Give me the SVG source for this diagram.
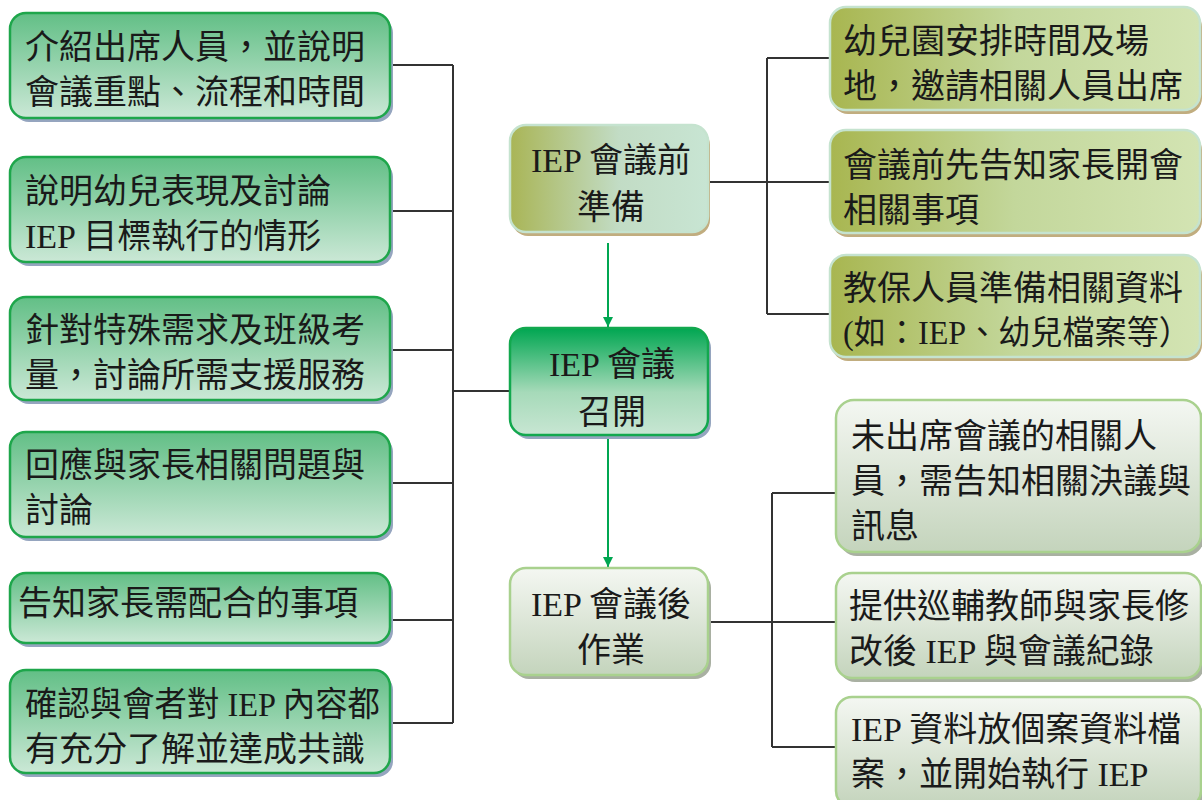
<svg xmlns="http://www.w3.org/2000/svg" width="1202" height="800" viewBox="0 0 1202 800">
<defs>
<linearGradient id="gLeft" x1="0" y1="0" x2="0" y2="1"><stop offset="0" stop-color="#62bf86"/><stop offset="1" stop-color="#cbe8d6"/></linearGradient>
<linearGradient id="gPrep" x1="0" y1="0" x2="1" y2="0"><stop offset="0" stop-color="#a9b556"/><stop offset="0.55" stop-color="#c2dcc5"/><stop offset="1" stop-color="#c8e5d3"/></linearGradient>
<linearGradient id="gPrepR" x1="0" y1="0" x2="1" y2="0"><stop offset="0" stop-color="#a8b650"/><stop offset="0.5" stop-color="#c3d79b"/><stop offset="1" stop-color="#d3e4b3"/></linearGradient>
<linearGradient id="gMeet" x1="0" y1="0" x2="0" y2="1"><stop offset="0" stop-color="#00a651"/><stop offset="0.6" stop-color="#a6dab9"/><stop offset="1" stop-color="#c8e6d3"/></linearGradient>
<linearGradient id="gPost" x1="0" y1="0" x2="0" y2="1"><stop offset="0" stop-color="#f4f7f2"/><stop offset="1" stop-color="#c4d4bc"/></linearGradient>
<marker id="arr" viewBox="0 0 10 10" refX="10" refY="5" markerWidth="5" markerHeight="5" orient="auto" markerUnits="strokeWidth"><path d="M0,0 L10,5 L0,10 z" fill="#00a651"/></marker>
</defs>
<style>
text{font-family:"Liberation Serif","Noto Sans CJK TC",serif;font-size:34px;fill:#1a1a1a}
.c{text-anchor:middle}
.shL{fill:#95a5bf}
.shP{fill:#c1ad7f}
.shQ{fill:#a9b0a2}
.bL{fill:url(#gLeft);stroke:#1ea64b;stroke-width:2.5}
.bP{fill:url(#gPrep);stroke:#c5e3cf;stroke-width:2.5}
.bPR{fill:url(#gPrepR);stroke:#c5e3cf;stroke-width:2.5}
.bM{fill:url(#gMeet);stroke:#12a84e;stroke-width:2.5}
.bQ{fill:url(#gPost);stroke:#a9d18e;stroke-width:2.5}
.ln{stroke:#333;stroke-width:2;fill:none}
.ar{stroke:#00a651;stroke-width:2;fill:none}
</style>
<rect width="1202" height="800" fill="#ffffff"/>
<g id="connectors">
<path class="ln" d="M390,65 H453 M390,211 H453 M390,350 H453 M390,483 H453 M390,620 H453 M390,723 H453 M453,65 V723 M453,391 H510"/>
<path class="ln" d="M708,182 H767 M767,58 V314 M767,58 H830 M767,182 H830 M767,314 H830"/>
<path class="ln" d="M708,622 H772 M772,493 V747 M772,493 H836 M772,622 H836 M772,747 H836"/>
<line class="ar" x1="608" y1="243" x2="608" y2="327" marker-end="url(#arr)"/>
<line class="ar" x1="608" y1="437" x2="608" y2="567" marker-end="url(#arr)"/>
</g>
<g id="n-left1"><rect class="shL" x="13" y="17" width="380" height="105" rx="16"/><rect class="bL" x="10" y="13" width="380" height="105" rx="16"/><text x="25" y="59">介紹出席人員，並說明</text><text x="25" y="104">會議重點、流程和時間</text></g>
<g id="n-left2"><rect class="shL" x="13" y="161" width="380" height="105" rx="16"/><rect class="bL" x="10" y="157" width="380" height="105" rx="16"/><text x="25" y="203">說明幼兒表現及討論</text><text x="25" y="248">IEP 目標執行的情形</text></g>
<g id="n-left3"><rect class="shL" x="13" y="301" width="380" height="103" rx="16"/><rect class="bL" x="10" y="297" width="380" height="103" rx="16"/><text x="25" y="342">針對特殊需求及班級考</text><text x="25" y="387">量，討論所需支援服務</text></g>
<g id="n-left4"><rect class="shL" x="13" y="436" width="380" height="105" rx="16"/><rect class="bL" x="10" y="432" width="380" height="105" rx="16"/><text x="25" y="477">回應與家長相關問題與</text><text x="25" y="522">討論</text></g>
<g id="n-left5"><rect class="shL" x="13" y="577" width="380" height="70" rx="16"/><rect class="bL" x="10" y="573" width="380" height="70" rx="16"/><text x="18" y="615">告知家長需配合的事項</text></g>
<g id="n-left6"><rect class="shL" x="13" y="674" width="380" height="103" rx="16"/><rect class="bL" x="10" y="670" width="380" height="103" rx="16"/><text x="25" y="716" textLength="355" lengthAdjust="spacingAndGlyphs">確認與會者對 IEP 內容都</text><text x="25" y="761">有充分了解並達成共識</text></g>
<g id="n-prep"><rect class="shP" x="512" y="129" width="198" height="107" rx="16"/><rect class="bP" x="510" y="125" width="198" height="107" rx="16"/><text class="c" x="611" y="172">IEP 會議前</text><text class="c" x="611" y="219">準備</text></g>
<g id="n-meet"><rect class="shL" x="513" y="332" width="198" height="107" rx="16"/><rect class="bM" x="510" y="328" width="198" height="107" rx="16"/><text class="c" x="612" y="376">IEP 會議</text><text class="c" x="612" y="424">召開</text></g>
<g id="n-post"><rect class="shQ" x="513" y="572" width="198" height="107" rx="16"/><rect class="bQ" x="510" y="568" width="198" height="107" rx="16"/><text class="c" x="611" y="616">IEP 會議後</text><text class="c" x="611" y="662">作業</text></g>
<g id="n-r1"><rect class="shP" x="832" y="11" width="370" height="103" rx="16"/><rect class="bPR" x="830" y="7" width="370" height="103" rx="16"/><text x="843" y="53">幼兒園安排時間及場</text><text x="843" y="98">地，邀請相關人員出席</text></g>
<g id="n-r2"><rect class="shP" x="832" y="134" width="370" height="103" rx="16"/><rect class="bPR" x="830" y="130" width="370" height="103" rx="16"/><text x="843" y="177">會議前先告知家長開會</text><text x="843" y="222">相關事項</text></g>
<g id="n-r3"><rect class="shP" x="832" y="259" width="370" height="102" rx="16"/><rect class="bPR" x="830" y="255" width="370" height="102" rx="16"/><text x="843" y="300">教保人員準備相關資料</text><text x="843" y="344" style="font-size:33px" textLength="348" lengthAdjust="spacingAndGlyphs">(如：IEP、幼兒檔案等）</text></g>
<g id="n-r4"><rect class="shQ" x="839" y="404" width="365" height="152" rx="18"/><rect class="bQ" x="836" y="400" width="365" height="152" rx="18"/><text x="851" y="448">未出席會議的相關人</text><text x="851" y="493">員，需告知相關決議與</text><text x="851" y="538">訊息</text></g>
<g id="n-r5"><rect class="shQ" x="839" y="577" width="365" height="105" rx="16"/><rect class="bQ" x="836" y="573" width="365" height="105" rx="16"/><text x="849" y="618">提供巡輔教師與家長修</text><text x="849" y="663">改後 IEP 與會議紀錄</text></g>
<g id="n-r6"><rect class="shQ" x="839" y="701" width="365" height="110" rx="16"/><rect class="bQ" x="836" y="697" width="365" height="110" rx="16"/><text x="851" y="741">IEP 資料放個案資料檔</text><text x="851" y="786">案，並開始執行 IEP</text></g>
</svg>
